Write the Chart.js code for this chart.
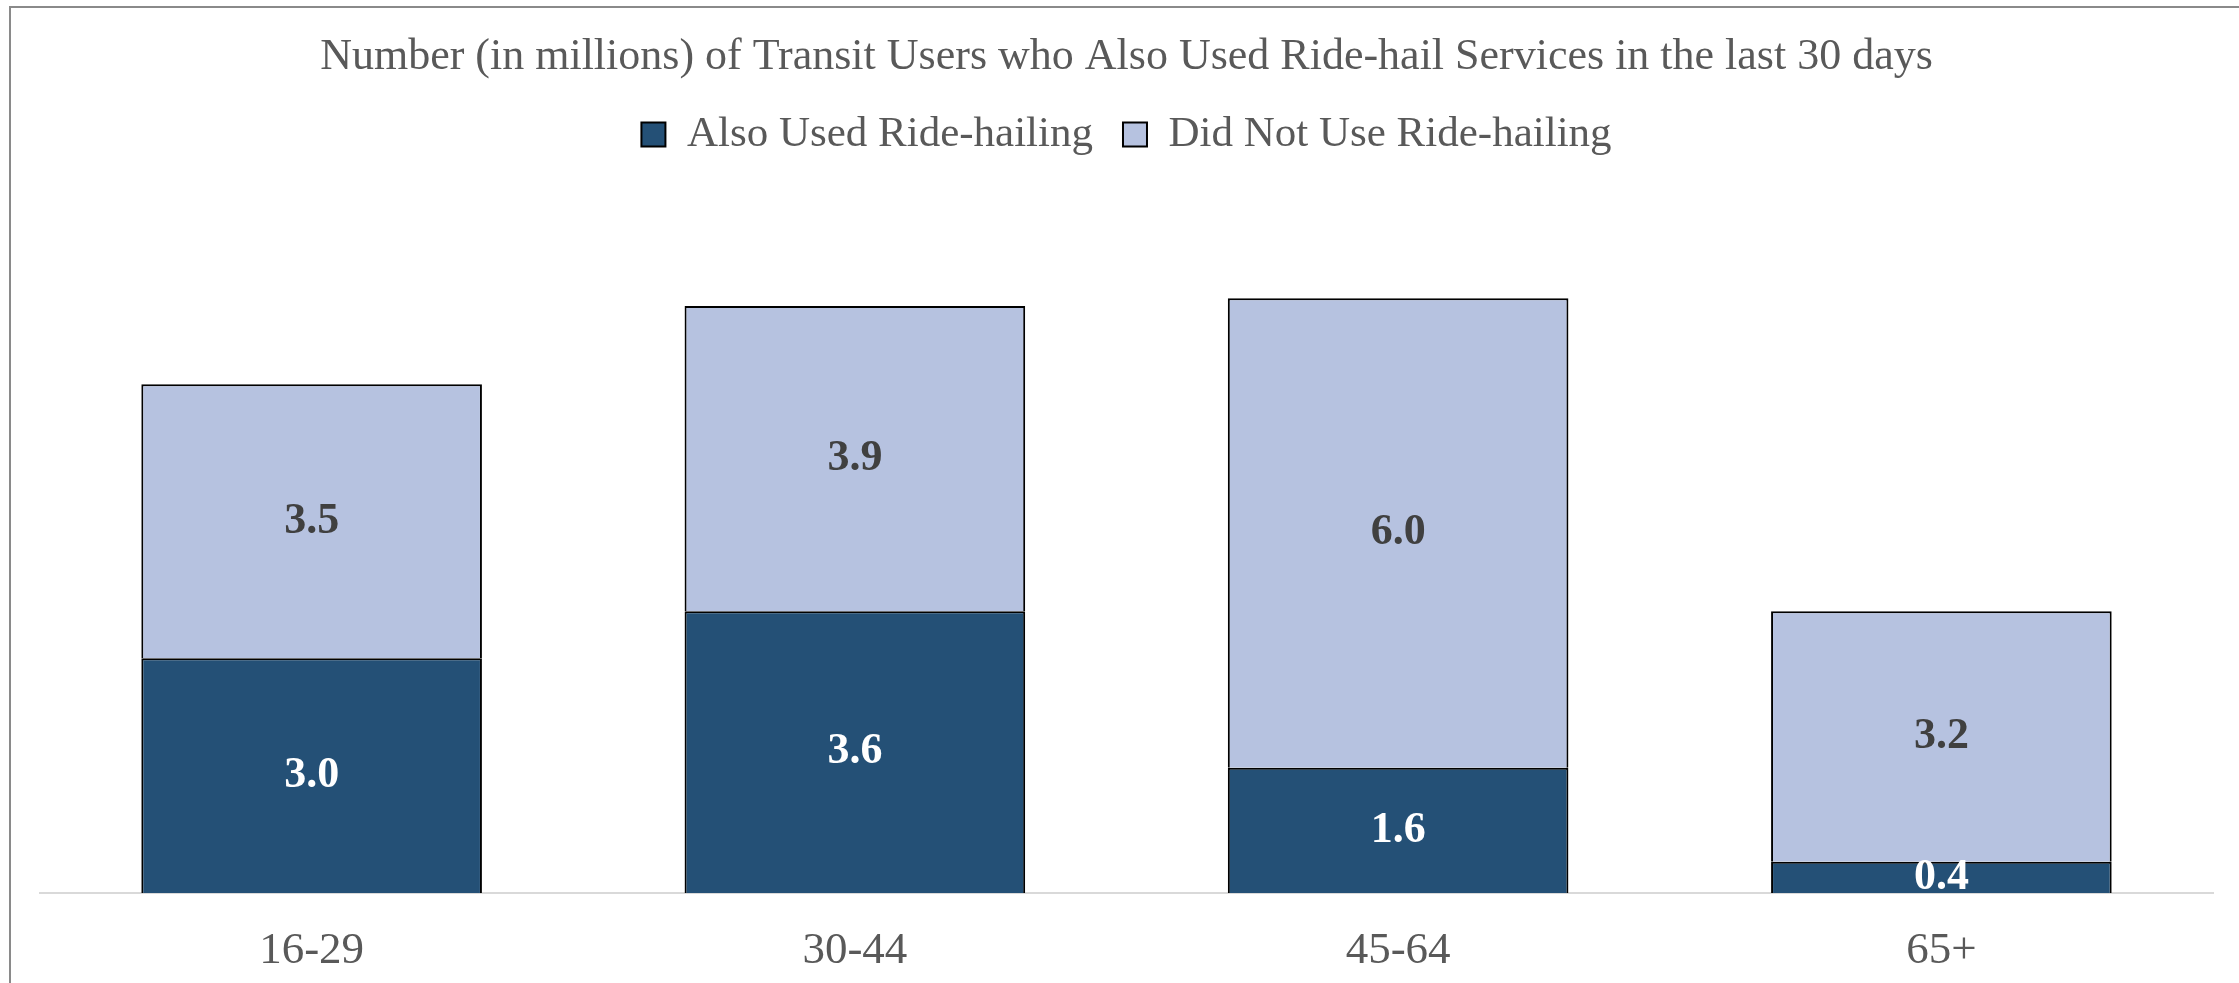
<!DOCTYPE html>
<html>
<head>
<meta charset="utf-8">
<script src="https://cdn.jsdelivr.net/npm/chart.js@4.4.1/dist/chart.umd.min.js"></script>
<style>
  html, body { margin: 0; padding: 0; background: #fff; overflow: hidden; }
  #frame {
    position: absolute; left: 9px; top: 6px;
    width: 2230px; height: 977px;
    border-top: 2px solid #8a8a8a; border-left: 2px solid #8a8a8a;
  }
  #chart { display: block; }
</style>
</head>
<body>
<div id="frame"><canvas id="chart" width="2228" height="975"></canvas></div>
<script>
const ageGroups = ['16-29', '30-44', '45-64', '65+']
const usedRideHail = [3.0, 3.6, 1.6, 0.4]
const notUsedRideHail = [3.5, 3.9, 6.0, 3.2]
const seriesNames = ['Also Used Ride-hailing', 'Did Not Use Ride-hailing']

const SERIF = '"Liberation Serif", "Times New Roman", serif'

// writes each segment's value in the middle of its bar
const segmentLabels = {
  id: 'segmentLabels',
  afterDatasetsDraw(chart) {
    const { ctx, chartArea } = chart
    const colors = ['#ffffff', '#404040']
    ctx.save()
    ctx.beginPath()
    ctx.rect(chartArea.left, chartArea.top, chartArea.right - chartArea.left, chartArea.bottom - chartArea.top)
    ctx.clip()
    ctx.font = 'bold 44px ' + SERIF
    ctx.textAlign = 'center'
    ctx.textBaseline = 'middle'
    chart.data.datasets.forEach((ds, i) => {
      chart.getDatasetMeta(i).data.forEach((bar, j) => {
        const mid = (bar.y + bar.base) / 2
        ctx.fillStyle = colors[i]
        ctx.fillText(ds.data[j].toFixed(1), bar.x, mid)
      })
    })
    ctx.restore()
  }
}

new Chart('chart', {
  type: 'bar',
  data: {
    labels: ageGroups,
    datasets: [{
      label: seriesNames[0],
      data: usedRideHail,
      backgroundColor: '#245076',
      borderColor: '#000000',
      borderWidth: 2
    }, {
      label: seriesNames[1],
      data: notUsedRideHail,
      backgroundColor: '#b6c2e0',
      borderColor: '#000000',
      borderWidth: 2
    }]
  },
  options: {
    responsive: false,
    animation: false,
    layout: { padding: { left: 29, right: 26, top: 0, bottom: -26 } },
    datasets: {
      bar: { barPercentage: 0.627, categoryPercentage: 1 }
    },
    plugins: {
      title: {
        display: true,
        text: 'Number (in millions) of Transit Users who Also Used Ride-hail Services in the last 30 days',
        color: '#595959',
        font: { family: SERIF, size: 44, weight: 'normal', lineHeight: 1 },
        padding: { top: 27, bottom: 4 }
      },
      legend: {
        display: true,
        labels: {
          color: '#595959',
          font: { family: SERIF, size: 43 },
          boxWidth: 24,
          boxHeight: 24,
          padding: 30
        }
      },
      tooltip: { enabled: false }
    },
    scales: {
      x: {
        stacked: true,
        z: 1,
        grid: { display: false, drawTicks: false },
        border: { display: true, color: '#d9d9d9', width: 2 },
        ticks: {
          color: '#595959',
          font: { family: SERIF, size: 45 },
          padding: 31
        }
      },
      y: {
        stacked: true,
        display: false,
        min: 0,
        max: 9.29
      }
    }
  },
  plugins: [segmentLabels]
})
</script>
</body>
</html>
